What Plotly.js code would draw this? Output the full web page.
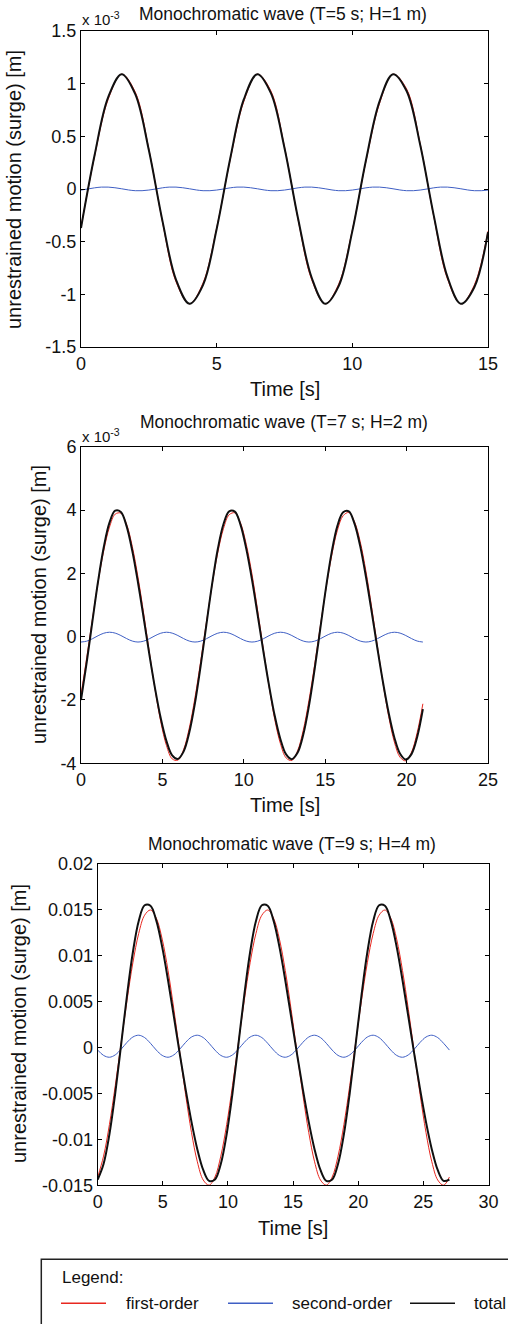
<!DOCTYPE html>
<html>
<head>
<meta charset="utf-8">
<script src="https://cdn.plot.ly/plotly-3.0.1.min.js"></script>
<style>
  html, body { margin: 0; padding: 0; background: #fff; }
  #chart { width: 508px; height: 1324px; }
</style>
</head>
<body>
<div id="chart"></div>
<script>
// ---------------- DATA ----------------
// Panel 1: T=5 s, H=1 m  (values in units of 1e-3 m)
const time1 = [0,0.5,1,1.5,2,2.5,3,3.5,4,4.5,5,5.5,6,6.5,7,7.5,8,8.5,9,9.5,10,10.5,11,11.5,12,12.5,13,13.5,14,14.5,15];
const firstOrder1 = [-0.36,0.31,0.85,1.09,0.92,0.38,-0.31,-0.88,-1.09,-0.89,-0.37,0.28,0.83,1.09,0.93,0.40,-0.29,-0.86,-1.09,-0.90,-0.39,0.26,0.81,1.09,0.95,0.43,-0.26,-0.85,-1.09,-0.91,-0.40];
const total1 = [-0.37,0.32,0.87,1.09,0.90,0.37,-0.30,-0.86,-1.09,-0.91,-0.38,0.29,0.85,1.09,0.91,0.39,-0.28,-0.84,-1.09,-0.92,-0.40,0.27,0.83,1.09,0.93,0.42,-0.25,-0.83,-1.09,-0.93,-0.41];
const time1b = [0,0.25,0.5,0.75,1,1.25,1.5,1.75,2,2.25,2.5,2.75,3,3.25,3.5,3.75,4,4.25,4.5,4.75,5,5.25,5.5,5.75,6,6.25,6.5,6.75,7,7.25,7.5,7.75,8,8.25,8.5,8.75,9,9.25,9.5,9.75,10,10.25,10.5,10.75,11,11.25,11.5,11.75,12,12.25,12.5,12.75,13,13.25,13.5,13.75,14,14.25,14.5,14.75,15];
const secondOrder1 = [-0.010,0.000,0.011,0.018,0.018,0.012,0.002,-0.009,-0.016,-0.016,
  -0.010,0.000,0.011,0.018,0.018,0.012,0.002,-0.009,-0.016,-0.016,
  -0.010,0.000,0.011,0.018,0.018,0.012,0.002,-0.009,-0.016,-0.016,
  -0.010,0.000,0.011,0.018,0.018,0.012,0.002,-0.009,-0.016,-0.016,
  -0.010,0.000,0.011,0.018,0.018,0.012,0.002,-0.009,-0.016,-0.016,
  -0.010,0.000,0.011,0.018,0.018,0.012,0.002,-0.009,-0.016,-0.016,-0.010];

// Panel 2: T=7 s, H=2 m  (values in units of 1e-3 m)
const time2 = [0,0.35,0.7,1.05,1.4,1.75,2.1,2.45,2.8,3.15,3.5,3.85,4.2,4.55,4.9,5.25,5.6,5.95,6.3,6.65,7,7.35,7.7,8.05,8.4,8.75,9.1,9.45,9.8,10.15,10.5,10.85,11.2,11.55,11.9,12.25,12.6,12.95,13.3,13.65,14,14.35,14.7,15.05,15.4,15.75,16.1,16.45,16.8,17.15,17.5,17.85,18.2,18.55,18.9,19.25,19.6,19.95,20.3,20.65,21];
const firstOrder2 = [-1.83,-0.67,0.55,1.72,2.72,3.46,3.87,3.90,3.55,2.85,1.88,0.73,-0.50,-1.67,-2.69,-3.44,-3.86,-3.90,-3.57,-2.89,
  -1.93,-0.78,0.44,1.62,2.65,3.41,3.85,3.91,3.59,2.92,1.98,0.83,-0.39,-1.57,-2.61,-3.38,-3.83,-3.91,-3.61,-2.96,
  -2.02,-0.89,0.33,1.52,2.56,3.36,3.82,3.92,3.63,3.00,2.07,0.94,-0.28,-1.47,-2.52,-3.33,-3.81,-3.92,-3.65,-3.03,-2.12];
const secondOrder2 = [-0.170,-0.142,-0.066,0.030,0.109,0.140,0.112,0.036,-0.060,-0.139,
  -0.170,-0.142,-0.066,0.030,0.109,0.140,0.112,0.036,-0.060,-0.139,
  -0.170,-0.142,-0.066,0.030,0.109,0.140,0.112,0.036,-0.060,-0.139,
  -0.170,-0.142,-0.066,0.030,0.109,0.140,0.112,0.036,-0.060,-0.139,
  -0.170,-0.142,-0.066,0.030,0.109,0.140,0.112,0.036,-0.060,-0.139,
  -0.170,-0.142,-0.066,0.030,0.109,0.140,0.112,0.036,-0.060,-0.139,-0.170];
const total2 = [-2.00,-0.81,0.48,1.75,2.83,3.60,3.98,3.94,3.49,2.71,1.71,0.59,-0.57,-1.64,-2.58,-3.30,-3.75,-3.86,-3.63,-3.03,
  -2.10,-0.92,0.37,1.65,2.76,3.55,3.96,3.95,3.53,2.78,1.81,0.69,-0.46,-1.54,-2.50,-3.24,-3.72,-3.87,-3.67,-3.10,
  -2.19,-1.03,0.26,1.55,2.67,3.50,3.93,3.96,3.57,2.86,1.90,0.80,-0.35,-1.44,-2.41,-3.19,-3.70,-3.88,-3.71,-3.17,-2.29];

// Panel 3: T=9 s, H=4 m  (values in m)
const time3 = [0,0.45,0.9,1.35,1.8,2.25,2.7,3.15,3.6,4.05,4.5,4.95,5.4,5.85,6.3,6.75,7.2,7.65,8.1,8.55,9,9.45,9.9,10.35,10.8,11.25,11.7,12.15,12.6,13.05,13.5,13.95,14.4,14.85,15.3,15.75,16.2,16.65,17.1,17.55,18,18.45,18.9,19.35,19.8,20.25,20.7,21.15,21.6,22.05,22.5,22.95,23.4,23.85,24.3,24.75,25.2,25.65,26.1,26.55,27];
const firstOrder3 = [-0.01410,-0.01182,-0.00839,-0.00413,0.00052,0.00513,0.00924,0.01244,0.01442,0.01499,0.01410,0.01182,0.00839,0.00413,-0.00052,-0.00513,-0.00924,-0.01244,-0.01442,-0.01499,
  -0.01410,-0.01182,-0.00839,-0.00413,0.00052,0.00513,0.00924,0.01244,0.01442,0.01499,0.01410,0.01182,0.00839,0.00413,-0.00052,-0.00513,-0.00924,-0.01244,-0.01442,-0.01499,
  -0.01410,-0.01182,-0.00839,-0.00413,0.00052,0.00513,0.00924,0.01244,0.01442,0.01499,0.01410,0.01182,0.00839,0.00413,-0.00052,-0.00513,-0.00924,-0.01244,-0.01442,-0.01499,-0.01410];
const secondOrder3 = [-0.00027,-0.00085,-0.00105,-0.00079,-0.00017,0.00057,0.00115,0.00135,0.00109,0.00047,
  -0.00027,-0.00085,-0.00105,-0.00079,-0.00017,0.00057,0.00115,0.00135,0.00109,0.00047,
  -0.00027,-0.00085,-0.00105,-0.00079,-0.00017,0.00057,0.00115,0.00135,0.00109,0.00047,
  -0.00027,-0.00085,-0.00105,-0.00079,-0.00017,0.00057,0.00115,0.00135,0.00109,0.00047,
  -0.00027,-0.00085,-0.00105,-0.00079,-0.00017,0.00057,0.00115,0.00135,0.00109,0.00047,
  -0.00027,-0.00085,-0.00105,-0.00079,-0.00017,0.00057,0.00115,0.00135,0.00109,0.00047,-0.00027];
const total3 = [-0.01437,-0.01267,-0.00944,-0.00492,0.00035,0.00570,0.01039,0.01379,0.01551,0.01546,0.01383,0.01097,0.00734,0.00334,-0.00069,-0.00456,-0.00809,-0.01109,-0.01333,-0.01452,
  -0.01437,-0.01267,-0.00944,-0.00492,0.00035,0.00570,0.01039,0.01379,0.01551,0.01546,0.01383,0.01097,0.00734,0.00334,-0.00069,-0.00456,-0.00809,-0.01109,-0.01333,-0.01452,
  -0.01437,-0.01267,-0.00944,-0.00492,0.00035,0.00570,0.01039,0.01379,0.01551,0.01546,0.01383,0.01097,0.00734,0.00334,-0.00069,-0.00456,-0.00809,-0.01109,-0.01333,-0.01452,-0.01437];

// Axis ticks and texts
const xTicks1 = [0,5,10,15];
const xTicks2 = [0,5,10,15,20,25];
const xTicks3 = [0,5,10,15,20,25,30];
const yTicks1 = [-1.5,-1,-0.5,0,0.5,1,1.5];
const yTickText1 = ['-1.5','-1','-0.5','0','0.5','1','1.5'];
const yTicks2 = [-4,-2,0,2,4,6];
const yTickText2 = ['-4','-2','0','2','4','6'];
const yTicks3 = [-0.015,-0.01,-0.005,0,0.005,0.01,0.015,0.02];
const yTickText3 = ['-0.015','-0.01','-0.005','0','0.005','0.01','0.015','0.02'];
const panelTitles = ['Monochromatic wave (T=5 s; H=1 m)','Monochromatic wave (T=7 s; H=2 m)','Monochromatic wave (T=9 s; H=4 m)'];
const xTitle = 'Time [s]';
const yTitle = 'unrestrained motion (surge) [m]';
const seriesNames = ['first-order','second-order','total'];

// ---------------- RENDERING ----------------
const W = 508, H = 1324;
const fx = p => p / W;
const fy = p => 1 - p / H;
const FONT = '"Liberation Sans", Arial, Helvetica, sans-serif';
const TXT = '#111111';
const RED = '#e8271f', BLUE = '#3f5fc4', BLACK = '#101010';

function line(x, y, color, width, n, name) {
  return { type: 'scatter', mode: 'lines', x: x, y: y, name: name,
    xaxis: 'x' + (n === 1 ? '' : n), yaxis: 'y' + (n === 1 ? '' : n),
    line: { color: color, width: width, shape: 'spline', smoothing: 1 },
    showlegend: false, hoverinfo: 'skip' };
}

const data = [
  line(time1, firstOrder1, RED, 1, 1, seriesNames[0]),
  line(time1b, secondOrder1, BLUE, 1, 1, seriesNames[1]),
  line(time1, total1, BLACK, 2, 1, seriesNames[2]),
  line(time2, firstOrder2, RED, 1, 2, seriesNames[0]),
  line(time2, secondOrder2, BLUE, 1, 2, seriesNames[1]),
  line(time2, total2, BLACK, 2, 2, seriesNames[2]),
  line(time3, firstOrder3, RED, 1, 3, seriesNames[0]),
  line(time3, secondOrder3, BLUE, 1, 3, seriesNames[1]),
  line(time3, total3, BLACK, 2, 3, seriesNames[2])
];

function axis(extra) {
  return Object.assign({
    showgrid: false, zeroline: false, showline: true, mirror: 'ticks',
    linecolor: '#000', linewidth: 1, ticks: 'inside', ticklen: 4, tickwidth: 1, tickcolor: '#000',
    tickfont: { family: FONT, size: 18, color: TXT }, fixedrange: true
  }, extra);
}

// panel boxes in pixels: [left, right, top, bottom]
const boxes = [[81, 488, 31, 347], [81, 488, 446.7, 763.3], [97.7, 488.5, 864, 1185.3]];

const layout = {
  width: W, height: H, margin: { l: 0, r: 0, t: 0, b: 0 },
  paper_bgcolor: '#fff', plot_bgcolor: '#fff', showlegend: false,
  xaxis: axis({ domain: [fx(boxes[0][0]), fx(boxes[0][1])], range: [0, 15], tickvals: xTicks1, ticktext: xTicks1.map(String), anchor: 'y' }),
  yaxis: axis({ domain: [fy(boxes[0][3]), fy(boxes[0][2])], range: [-1.5, 1.5], tickvals: yTicks1, ticktext: yTickText1, anchor: 'x' }),
  xaxis2: axis({ domain: [fx(boxes[1][0]), fx(boxes[1][1])], range: [0, 25], tickvals: xTicks2, ticktext: xTicks2.map(String), anchor: 'y2' }),
  yaxis2: axis({ domain: [fy(boxes[1][3]), fy(boxes[1][2])], range: [-4, 6], tickvals: yTicks2, ticktext: yTickText2, anchor: 'x2' }),
  xaxis3: axis({ domain: [fx(boxes[2][0]), fx(boxes[2][1])], range: [0, 30], tickvals: xTicks3, ticktext: xTicks3.map(String), anchor: 'y3' }),
  yaxis3: axis({ domain: [fy(boxes[2][3]), fy(boxes[2][2])], range: [-0.015, 0.02], tickvals: yTicks3, ticktext: yTickText3, anchor: 'x3' }),
  annotations: [],
  shapes: []
};

function note(text, px, py, size, opts) {
  layout.annotations.push(Object.assign({
    text: text, xref: 'paper', yref: 'paper', x: fx(px), y: fy(py),
    xanchor: 'center', yanchor: 'middle', showarrow: false,
    font: { family: FONT, size: size, color: TXT }
  }, opts || {}));
}

// panel titles
note(panelTitles[0], 283, 14, 17.5);
note(panelTitles[1], 284, 422, 17.5);
note(panelTitles[2], 292, 844, 17.5);
// exponent labels
note('x 10<sup>-3</sup>', 80, 19, 15, { xanchor: 'left' });
note('x 10<sup>-3</sup>', 80, 435, 15, { xanchor: 'left' });
// y titles
note(yTitle, 14, 190, 20, { textangle: -90 });
note(yTitle, 39, 605, 20, { textangle: -90 });
note(yTitle, 19, 1024, 20, { textangle: -90 });
// x titles
note(xTitle, 284.5, 389, 20);
note(xTitle, 284.5, 805, 20);
note(xTitle, 293, 1228, 20);

// legend box (cropped at page edge in the reference)
layout.shapes.push({ type: 'rect', xref: 'paper', yref: 'paper', x0: fx(41.3), x1: fx(530), y0: fy(1360), y1: fy(1259.3), line: { color: '#222', width: 1.5 }, fillcolor: 'rgba(0,0,0,0)' });
note('Legend:', 60, 1277, 17, { xanchor: 'left' });
const legendItems = [[seriesNames[0], RED, 61, 124], [seriesNames[1], BLUE, 228, 290], [seriesNames[2], BLACK, 410, 472]];
legendItems.forEach(it => {
  layout.shapes.push({ type: 'line', xref: 'paper', yref: 'paper', x0: fx(it[2]), x1: fx(it[2] + 45), y0: fy(1303.3), y1: fy(1303.3), line: { color: it[1], width: 1.5 } });
  note(it[0], it[3], 1303.3, 17, { xanchor: 'left' });
});

Plotly.newPlot('chart', data, layout, { displayModeBar: false, staticPlot: true });
</script>
</body>
</html>
